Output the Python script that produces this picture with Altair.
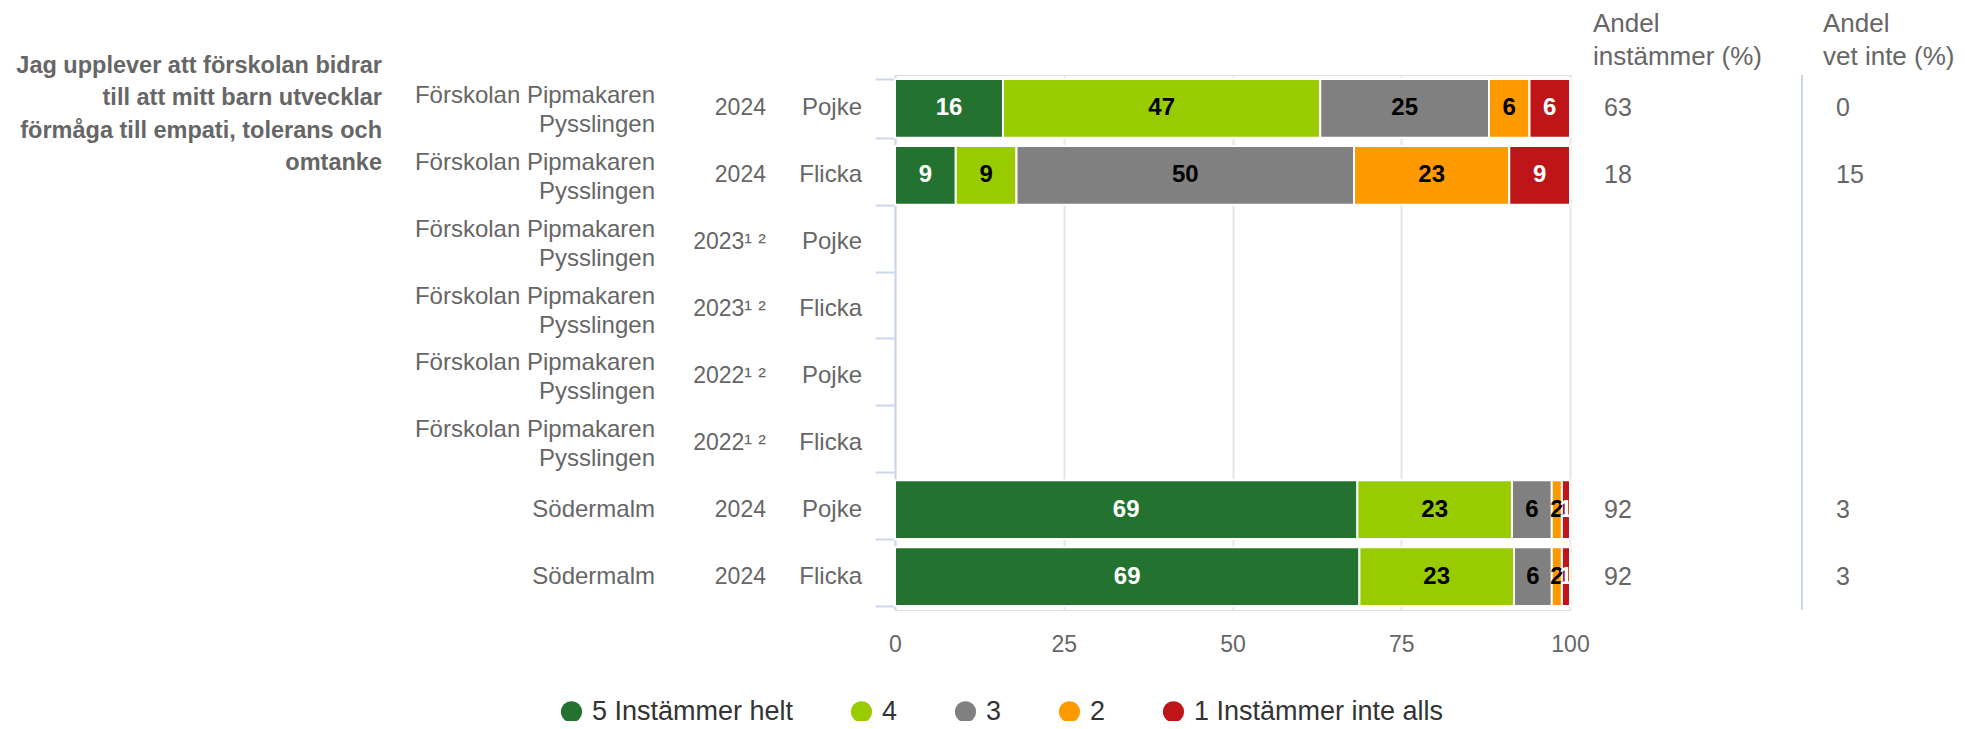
import altair as alt
import pandas as pd

# ---------------- data ----------------
schools = ["Förskolan Pipmakaren\nPysslingen"] * 6 + ["Södermalm"] * 2
years = ["2024", "2024", "2023¹ ²", "2023¹ ²", "2022¹ ²", "2022¹ ²", "2024", "2024"]
genders = ["Pojke", "Flicka", "Pojke", "Flicka", "Pojke", "Flicka", "Pojke", "Flicka"]

categories = ["5 Instämmer helt", "4", "3", "2", "1 Instämmer inte alls"]
colors = ["#247230", "#99cc00", "#808080", "#ff9900", "#bd1518"]

v5 = [16, 9, None, None, None, None, 68.5, 68.8]
v4 = [47, 9, None, None, None, None, 22.9, 22.9]
v3 = [25, 50, None, None, None, None, 5.9, 5.6]
v2 = [6, 23, None, None, None, None, 1.5, 1.5]
v1 = [6, 9, None, None, None, None, 1.2, 1.2]

andel_instammer = [63, 18, None, None, None, None, 92, 92]
andel_vet_inte = [0, 15, None, None, None, None, 3, 3]

question = "Jag upplever att förskolan bidrar\ntill att mitt barn utvecklar\nförmåga till empati, tolerans och\nomtanke"
header_instammer = "Andel\ninstämmer (%)"
header_vet_inte = "Andel\nvet inte (%)"

FONT = "Liberation Sans"

# ---------------- tables ----------------
row_ids = [f"r{i}" for i in range(len(schools))]
rows = pd.DataFrame({
    "row": row_ids,
    "school": schools,
    "nlines": [s.count("\n") + 1 for s in schools],
    "year": years,
    "gender": genders,
    "instammer": andel_instammer,
    "vetinte": andel_vet_inte,
})

series = [v5, v4, v3, v2, v1]
seg_records = []
for i, rid in enumerate(row_ids):
    for k, cat in enumerate(categories):
        val = series[k][i]
        if val is not None:
            seg_records.append({"row": rid, "cat": cat, "order": k, "value": val})
seg = pd.DataFrame(seg_records)

one = pd.DataFrame({"q": [question], "h1": [header_instammer], "h2": [header_vet_inte]})

# ---------------- encodings ----------------
yenc = alt.Y(
    "row:N",
    sort=row_ids,
    scale=alt.Scale(domain=row_ids, paddingInner=0.12, paddingOuter=0.06),
    axis=alt.Axis(
        labels=False, title=None, grid=False,
        ticks=True, tickBand="extent", tickSize=20, tickColor="#ccd6eb", tickWidth=2,
        domain=True, domainColor="#ccd6eb", domainWidth=2,
    ),
)
xscale = alt.Scale(domain=[0, 100], nice=False, zero=True)
xaxis = alt.Axis(
    values=[0, 25, 50, 75, 100], format="d", title=None,
    domain=False, ticks=False, labelFlush=False,
    labelFontSize=23, labelColor="#666666", labelFont=FONT, labelPadding=23,
    grid=True, gridColor="#e6e6e6", gridWidth=2,
)

base = alt.Chart(seg).transform_stack(
    stack="value", groupby=["row"], as_=["x0", "x1"],
    sort=[alt.SortField("order", order="ascending")],
).transform_calculate(mid="(datum.x0 + datum.x1) / 2")

bars = base.mark_bar(stroke="white", strokeWidth=2).encode(
    y=yenc,
    x=alt.X("x0:Q", scale=xscale, axis=xaxis),
    x2="x1:Q",
    color=alt.Color(
        "cat:N", sort=categories,
        scale=alt.Scale(domain=categories, range=colors),
        legend=alt.Legend(
            title=None, orient="none", direction="horizontal",
            legendX=-337, legendY=623, padding=0,
            symbolType="circle", symbolSize=450, symbolStrokeWidth=0, symbolOpacity=1,
            labelFontSize=27, labelColor="#333333", labelFont=FONT, labelLimit=500,
            labelOffset=7, columnPadding=54,
        ),
    ),
)

bar_labels = base.mark_text(font=FONT, fontSize=24, fontWeight="bold", baseline="middle").encode(
    y=yenc,
    x=alt.X("mid:Q", scale=xscale, axis=xaxis),
    text=alt.Text("value:Q", format=".0f"),
    color=alt.condition(
        alt.FieldOneOfPredicate(field="cat", oneOf=[categories[0], categories[4]]),
        alt.value("#ffffff"), alt.value("#000000"),
    ),
)

school_multi = alt.Chart(rows).transform_filter("datum.nlines == 2").mark_text(
    font=FONT, fontSize=24, color="#666666", align="right", baseline="middle",
    lineBreak="\n", lineHeight=29, dy=-12.5,
).encode(y=yenc, x=alt.value(-240), text="school:N")

school_single = alt.Chart(rows).transform_filter("datum.nlines == 1").mark_text(
    font=FONT, fontSize=24, color="#666666", align="right", baseline="middle",
).encode(y=yenc, x=alt.value(-240), text="school:N")

year_txt = alt.Chart(rows).mark_text(
    font=FONT, fontSize=23, color="#666666", align="right", baseline="middle",
).encode(y=yenc, x=alt.value(-129), text="year:N")

gender_txt = alt.Chart(rows).mark_text(
    font=FONT, fontSize=24, color="#666666", align="right", baseline="middle",
).encode(y=yenc, x=alt.value(-33), text="gender:N")

inst_txt = alt.Chart(rows).transform_filter("isValid(datum.instammer)").mark_text(
    font=FONT, fontSize=25, color="#666666", align="left", baseline="middle",
).encode(y=yenc, x=alt.value(709), text=alt.Text("instammer:Q", format="d"))

vet_txt = alt.Chart(rows).transform_filter("isValid(datum.vetinte)").mark_text(
    font=FONT, fontSize=25, color="#666666", align="left", baseline="middle",
).encode(y=yenc, x=alt.value(941), text=alt.Text("vetinte:Q", format="d"))

head1 = alt.Chart(one).mark_text(
    font=FONT, fontSize=26, color="#666666", align="left", baseline="middle",
    lineBreak="\n", lineHeight=32.5,
).encode(x=alt.value(698), y=alt.value(-51), text="h1:N")

head2 = alt.Chart(one).mark_text(
    font=FONT, fontSize=26, color="#666666", align="left", baseline="middle",
    lineBreak="\n", lineHeight=32.5,
).encode(x=alt.value(928), y=alt.value(-51), text="h2:N")

sep_rule = alt.Chart(one).mark_rule(color="#ccd6eb", strokeWidth=2).encode(
    x=alt.value(907), y=alt.value(0), y2=alt.value(535)
)

question_txt = alt.Chart(one).mark_text(
    font=FONT, fontSize=23.5, fontWeight="bold", color="#666666", align="right",
    baseline="middle", lineBreak="\n", lineHeight=32.5,
).encode(x=alt.value(-513), y=alt.value(-9.5), text="q:N")

chart = alt.layer(
    bars, bar_labels, school_multi, school_single, year_txt, gender_txt,
    inst_txt, vet_txt, head1, head2, sep_rule, question_txt,
).properties(
    width=675, height=535,
    padding={"left": 887, "top": 67, "right": 385, "bottom": 111},
    autosize=alt.AutoSizeParams(type="none"),
).configure_view(stroke=None).configure(font=FONT, background="white")

chart.save("out.html", embed_options={"renderer": "svg", "actions": False})
